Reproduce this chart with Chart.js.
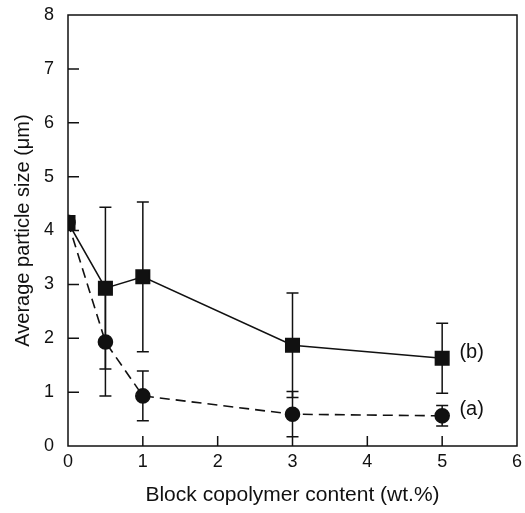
<!DOCTYPE html>
<html>
<head>
<meta charset="utf-8">
<script src="https://cdn.jsdelivr.net/npm/chart.js@4.4.0/dist/chart.umd.min.js"></script>
<style>
  html, body { margin: 0; padding: 0; background: #fff; }
  #wrap { width: 525px; height: 513px; }
</style>
</head>
<body>
<div id="wrap"><canvas id="chart" width="525" height="513"></canvas></div>
<script>
const content = [0, 0.5, 1, 3, 5];

// (a) dashed, circles
const sizeA = [4.15, 1.93, 0.93, 0.59, 0.56];
const errA = [0, 1.0, 0.46, 0.42, 0.19];

// (b) solid, squares
const sizeB = [4.15, 2.93, 3.14, 1.87, 1.63];
const errB = [0, 1.5, 1.39, 0.97, 0.65];

const xTicks = [0, 1, 2, 3, 4, 5, 6];
const yTicks = [0, 1, 2, 3, 4, 5, 6, 7, 8];

const seriesLabels = [
  { text: "(b)", x: 5.23, y: 1.74 },
  { text: "(a)", x: 5.23, y: 0.67 },
];

const font = "'Liberation Sans', Arial, sans-serif";

const errorBars = {
  id: "errorBars",
  beforeDatasetsDraw(chart) {
    const { ctx, scales: { x, y } } = chart;
    ctx.save();
    ctx.strokeStyle = "#111";
    ctx.lineWidth = 1.5;
    chart.data.datasets.forEach((ds) => {
      ds.data.forEach((p) => {
        if (!p.err) return;
        const px = x.getPixelForValue(p.x);
        const top = y.getPixelForValue(p.y + p.err);
        const bot = y.getPixelForValue(p.y - p.err);
        ctx.beginPath();
        ctx.moveTo(px, top);
        ctx.lineTo(px, bot);
        ctx.moveTo(px - 6, top);
        ctx.lineTo(px + 6, top);
        ctx.moveTo(px - 6, bot);
        ctx.lineTo(px + 6, bot);
        ctx.stroke();
      });
    });
    ctx.restore();
  },
};

const frame = {
  id: "frame",
  afterDraw(chart) {
    const { ctx, chartArea: a, scales: { x, y } } = chart;
    ctx.save();
    ctx.strokeStyle = "#111";
    ctx.lineWidth = 1.5;
    ctx.strokeRect(a.left, a.top, a.right - a.left, a.bottom - a.top);
    ctx.beginPath();
    xTicks.slice(1, -1).forEach((v) => {
      const px = x.getPixelForValue(v);
      ctx.moveTo(px, a.bottom);
      ctx.lineTo(px, a.bottom - 10);
    });
    yTicks.slice(1, -1).forEach((v) => {
      const py = y.getPixelForValue(v);
      ctx.moveTo(a.left, py);
      ctx.lineTo(a.left + 11, py);
    });
    ctx.stroke();

    ctx.fillStyle = "#111";
    ctx.font = "20px " + font;
    ctx.textBaseline = "middle";
    ctx.textAlign = "left";
    seriesLabels.forEach((l) => {
      ctx.fillText(l.text, x.getPixelForValue(l.x), y.getPixelForValue(l.y));
    });
    ctx.restore();
  },
};

new Chart(document.getElementById("chart"), {
  type: "line",
  data: {
    datasets: [
      {
        label: "(a)",
        data: content.map((c, i) => ({ x: c, y: sizeA[i], err: errA[i] })),
        borderColor: "#111",
        backgroundColor: "#111",
        borderWidth: 1.6,
        borderDash: [10, 6],
        pointStyle: "circle",
        pointRadius: 7,
        tension: 0,
      },
      {
        label: "(b)",
        data: content.map((c, i) => ({ x: c, y: sizeB[i], err: errB[i] })),
        borderColor: "#111",
        backgroundColor: "#111",
        borderWidth: 1.6,
        pointStyle: "rect",
        pointRadius: 9.5,
        tension: 0,
      },
    ],
  },
  options: {
    responsive: false,
    animation: false,
    layout: { autoPadding: false, padding: { top: 15, right: 8, left: 0, bottom: 0 } },
    plugins: { legend: { display: false }, tooltip: { enabled: false } },
    scales: {
      x: {
        type: "linear",
        min: 0,
        max: 6,
        afterBuildTicks: (s) => { s.ticks = xTicks.map((v) => ({ value: v })); },
        afterFit: (s) => { s.height = 67; s.paddingLeft = 0; s.paddingRight = 0; },
        grid: { display: false, drawTicks: false },
        border: { display: false },
        ticks: { color: "#111", padding: 5, font: { family: font, size: 18 } },
        title: {
          display: true,
          text: "Block copolymer content (wt.%)",
          color: "#111",
          font: { family: font, size: 21 },
          padding: { top: 4, bottom: 5 },
        },
      },
      y: {
        min: 0,
        max: 8,
        afterBuildTicks: (s) => { s.ticks = yTicks.map((v) => ({ value: v })); },
        afterFit: (s) => { s.width = 68; s.paddingTop = 0; s.paddingBottom = 0; },
        grid: { display: false, drawTicks: false },
        border: { display: false },
        ticks: { color: "#111", padding: 14, font: { family: font, size: 18 } },
        title: {
          display: true,
          text: "Average particle size (μm)",
          color: "#111",
          font: { family: font, size: 20 },
          padding: { top: 11, bottom: 2 },
        },
      },
    },
  },
  plugins: [errorBars, frame],
});
</script>
</body>
</html>
